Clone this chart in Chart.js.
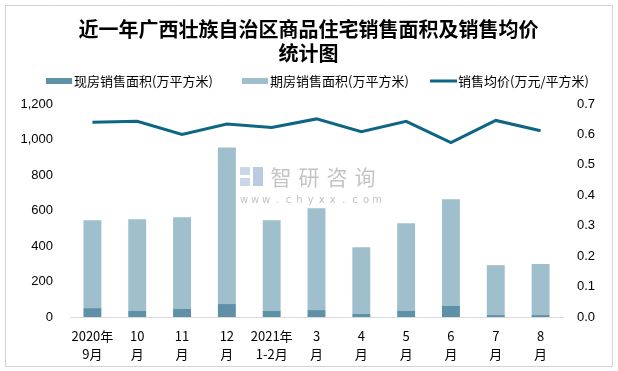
<!DOCTYPE html>
<html>
<head>
  <meta charset="utf-8">
  <title>近一年广西壮族自治区商品住宅销售面积及销售均价统计图</title>
  <script src="https://cdn.jsdelivr.net/npm/chart.js"></script>
  <style>
    html, body { margin: 0; padding: 0; background: #fff; }
    #wrap { width: 618px; height: 371px; position: relative; }
  </style>
</head>
<body>
<div id="wrap"><canvas id="salesChart" width="618" height="371"></canvas></div>

<script>
  // 数据
  const months = [['2020年', '9月'], ['10', '月'], ['11', '月'], ['12', '月'], ['2021年', '1-2月'],
    ['3', '月'], ['4', '月'], ['5', '月'], ['6', '月'], ['7', '月'], ['8', '月']];
  const spotArea = [50, 34, 45, 73, 34, 39, 17, 34, 62, 11, 11];       // 现房销售面积(万平方米)
  const futuresArea = [495, 517, 517, 882, 511, 574, 376, 494, 601, 281, 287]; // 期房销售面积(万平方米)
  const avgPrice = [0.640, 0.643, 0.600, 0.634, 0.623, 0.651, 0.609, 0.643, 0.573, 0.646, 0.612]; // 销售均价(万元/平方米)

  const seriesNames = ['现房销售面积(万平方米)', '期房销售面积(万平方米)', '销售均价(万元/平方米)'];
  const colors = ['#5e90a8', '#a0bfcc', '#0f6584'];
  const cjk = '"Noto Sans CJK SC", "Noto Sans", sans-serif';

  // 外框、图例和水印
  const decor = {
    id: 'decor',
    beforeDraw(chart) {
      const c = chart.ctx;
      c.save();
      c.strokeStyle = '#a6a6a6';
      c.setLineDash([1, 1]);
      c.strokeRect(5.5, 5.5, 607, 361);
      c.restore();
    },
    beforeDatasetsDraw(chart) {
      const c = chart.ctx;
      c.save();
      // logo
      c.fillStyle = '#c9d7e6';
      c.fillRect(240, 167, 10, 8);
      c.fillRect(240, 178, 10, 8);
      c.fillStyle = '#b8cbe0';
      c.fillRect(253, 167, 10, 19);
      c.fillStyle = '#c4c4c4';
      c.font = '21px ' + cjk;
      c.textBaseline = 'middle';
      c.textAlign = 'center';
      ['智', '研', '咨', '询'].forEach((ch, i) => c.fillText(ch, 281 + i * 28, 177));
      c.font = '10px "DejaVu Sans", sans-serif';
      'www.chyxx.com'.split('').forEach((ch, i) => c.fillText(ch, 244 + i * 11.1, 200));
      c.restore();
    },
    afterDraw(chart) {
      const c = chart.ctx;
      c.save();
      c.font = '13px ' + cjk;
      c.textBaseline = 'middle';
      const items = [[46, 'box'], [242, 'box'], [430, 'line']];
      items.forEach(([x, kind], i) => {
        c.fillStyle = colors[i];
        if (kind === 'box') c.fillRect(x, 78, 26, 6);
        else c.fillRect(x, 79.5, 27, 3);
        c.fillStyle = '#000';
        c.textAlign = 'left';
        c.fillText(seriesNames[i], x + 28, 81);
      });
      c.restore();
    }
  };

  const ctx = document.getElementById('salesChart').getContext('2d');
  const chart = new Chart(ctx, {
    data: {
      labels: months,
      datasets: [{
        type: 'line',
        label: seriesNames[2],
        data: avgPrice,
        yAxisID: 'y1',
        borderColor: colors[2],
        borderWidth: 3,
        pointRadius: 0,
        tension: 0,
        fill: false
      }, {
        type: 'bar',
        label: seriesNames[0],
        data: spotArea,
        yAxisID: 'y',
        backgroundColor: colors[0],
        barPercentage: 0.4,
        categoryPercentage: 1,
        stack: 'area'
      }, {
        type: 'bar',
        label: seriesNames[1],
        data: futuresArea,
        yAxisID: 'y',
        backgroundColor: colors[1],
        barPercentage: 0.4,
        categoryPercentage: 1,
        stack: 'area'
      }]
    },
    options: {
      responsive: false,
      animation: false,
      layout: { padding: { left: 20, right: 21, top: 0, bottom: 8 } },
      plugins: {
        legend: { display: false },
        tooltip: { enabled: false },
        title: {
          display: true,
          text: ['近一年广西壮族自治区商品住宅销售面积及销售均价', '统计图'],
          color: '#000',
          font: { family: cjk, size: 20, weight: 'bold', lineHeight: 1.2 },
          padding: { top: 17, bottom: 39 }
        }
      },
      scales: {
        x: {
          stacked: true,
          grid: { display: false, drawTicks: false },
          border: { display: true, color: '#d9d9d9', width: 1 },
          ticks: { color: '#000', font: { family: cjk, size: 13, lineHeight: 1.4 }, padding: 10, maxRotation: 0, autoSkip: false },
          afterFit: s => { s.height = 46; }
        },
        y: {
          stacked: true,
          position: 'left',
          min: 0, max: 1200,
          grid: { display: false, drawTicks: false },
          border: { display: false },
          ticks: {
            stepSize: 200, padding: 17, color: '#000',
            font: { family: '"Liberation Sans", sans-serif', size: 13 },
            callback: v => v.toLocaleString('en-US')
          },
          afterFit: s => { s.width = 50; }
        },
        y1: {
          position: 'right',
          min: 0, max: 0.7,
          grid: { display: false, drawTicks: false },
          border: { display: false },
          ticks: {
            stepSize: 0.1, padding: 14, color: '#000',
            font: { family: '"Liberation Sans", sans-serif', size: 13 },
            callback: v => v.toFixed(1)
          },
          afterFit: s => { s.width = 34; }
        }
      }
    },
    plugins: [decor]
  });
</script>
</body>
</html>
